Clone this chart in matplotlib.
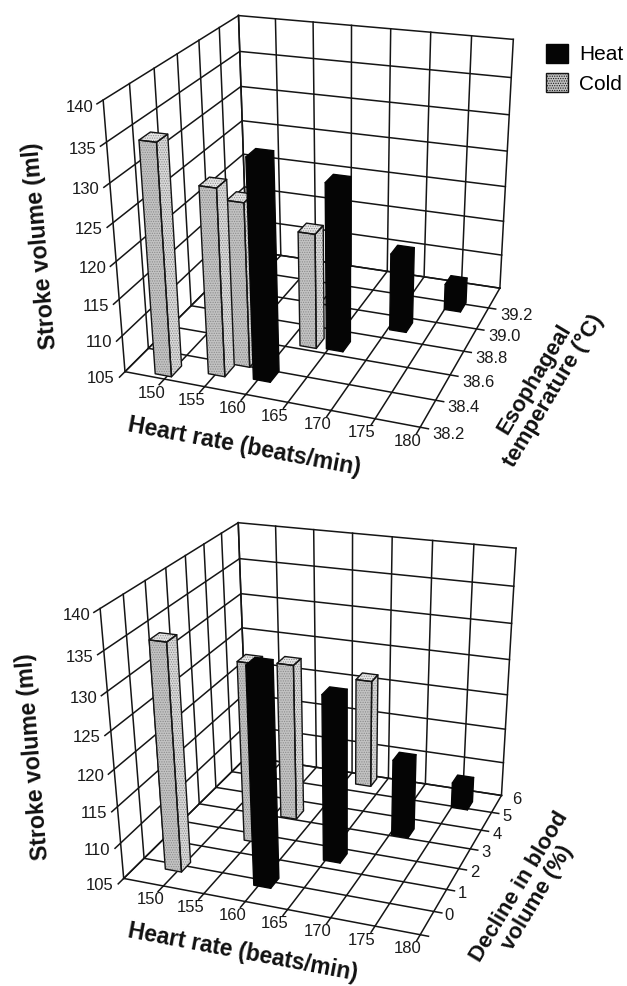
import numpy as np
import matplotlib
matplotlib.use("Agg")
import matplotlib.pyplot as plt
from matplotlib.patches import Patch
from mpl_toolkits.mplot3d.art3d import Poly3DCollection

W, H = 627, 986
plt.rcParams['font.family'] = ['Liberation Sans', 'DejaVu Sans']
plt.rcParams['hatch.linewidth'] = 0.55

# ---- data ----
hr_cold = [149.5, 155.2, 157.0, 162.6]
hr_heat = [160.5, 165.8, 171.3, 176.0]
sv_cold = [135.4, 129.8, 127.0, 120.8]
sv_heat = [133.8, 127.6, 115.8, 108.7]
temp_cold = [38.27, 38.34, 38.44, 38.67]
temp_heat = [38.36, 38.68, 38.92, 39.17]
decl_cold = [-0.05, 1.85, 3.28, 5.63]
decl_heat = [-0.04, 1.57, 3.28, 5.17]
hr_ticks = [150, 155, 160, 165, 170, 175, 180]
sv_ticks = [105, 110, 115, 120, 125, 130, 135, 140]
temp_ticks = [38.2, 38.4, 38.6, 38.8, 39.0, 39.2]
decl_ticks = [0, 1, 2, 3, 4, 5, 6]


def fit(xr, yr, zr, pts):
    """Camera matrix (data -> image pixels) from the corners of the plot box."""
    S = np.array([[1 / (xr[1] - xr[0]), 0, 0, -xr[0] / (xr[1] - xr[0])],
                  [0, 1 / (yr[1] - yr[0]), 0, -yr[0] / (yr[1] - yr[0])],
                  [0, 0, 1 / (zr[1] - zr[0]), -zr[0] / (zr[1] - zr[0])],
                  [0, 0, 0, 1]])
    rows = []
    for (i, j, k, u, v) in pts:
        u, v = u / 500, v / 500
        rows.append([i, j, k, 1, 0, 0, 0, 0, -u * i, -u * j, -u * k, -u])
        rows.append([0, 0, 0, 0, i, j, k, 1, -v * i, -v * j, -v * k, -v])
    _, _, Vt = np.linalg.svd(np.array(rows, float))
    P = np.diag([500, 500, 1.]) @ Vt[-1].reshape(3, 4) @ S
    c = np.array([sum(xr) / 2, sum(yr) / 2, sum(zr) / 2, 1])
    return -P if P[2] @ c < 0 else P


def pr(P, x, y, z):
    q = P @ np.array([x, y, z, 1.])
    return q[0] / q[2], q[1] / q[2]


fig = plt.figure(figsize=(W / 100, H / 100), dpi=100)


def ftext(px, py, s, **kw):
    return fig.text(px / W, 1 - py / H, s, **kw)


def panel(rect, P, xlim, ylim, zlim, yvals, ytick_pos, ylabels,
          ycold, yheat, dx, dy, ystub, ytoff):
    ax = fig.add_axes(rect, projection='3d')
    ax.set_axis_off()
    ax.patch.set_visible(False)
    ax.computed_zorder = False
    ax.set_xlim(*xlim); ax.set_ylim(*ylim); ax.set_zlim(*zlim)

    def get_proj():
        A = np.linalg.inv(ax.transData.get_affine().get_matrix())
        D = np.array([[1, 0, 0], [0, -1, H], [0, 0, 1.]])
        Q = A @ D @ P
        return np.vstack([Q[0], Q[1], [0, 0, 0, -1], Q[2]])
    ax.get_proj = get_proj

    lk = dict(color='#151515', lw=1.1, zorder=0, clip_on=False)
    x0, x1 = xlim; y0, y1 = ylim; z0, z1 = zlim
    xs = [x0] + hr_ticks
    for x in xs:                                  # back wall + floor, x lines
        ax.plot([x, x], [y1, y1], [z0, z1], **lk)
        ax.plot([x, x], [y0, y1], [z0, z0], **lk)
    for x in hr_ticks:
        ax.plot([x, x], [y0 - ystub, y0], [z0, z0], **lk)
    for y in yvals:                               # left wall + floor, y lines
        ax.plot([x0, x0], [y, y], [z0, z1], **lk)
        ax.plot([x0, x1 + (0.9 if y < y1 else 0.0)], [y, y], [z0, z0], **lk)
    for z in sv_ticks:
        ax.plot([x0, x1], [y1, y1], [z, z], **lk)
        ax.plot([x0, x0], [y0 - ystub, y1], [z, z], **lk)

    # bars, farthest first
    bars = [(x, y, z, 'c') for x, y, z in zip(hr_cold, ycold, sv_cold)] + \
           [(x, y, z, 'h') for x, y, z in zip(hr_heat, yheat, sv_heat)]
    bars.sort(key=lambda b: -(P @ np.array([b[0], b[1], z0, 1.]))[2])
    for n, (x, y, z, kind) in enumerate(bars):
        a, b = x - dx / 2, x + dx / 2
        c, d = y - dy / 2, y + dy / 2
        faces = [[(a, c, z0), (b, c, z0), (b, c, z), (a, c, z)],
                 [(b, c, z0), (b, d, z0), (b, d, z), (b, c, z)],
                 [(a, c, z), (b, c, z), (b, d, z), (a, d, z)]]
        zo = n + 1
        if kind == 'c':
            fill = Poly3DCollection(faces, facecolors=['#c2c2c2', '#d8d8d8', '#e6e6e6'],
                                    edgecolors='#8a8a8a', linewidths=0,
                                    hatch='.......', zorder=zo)
            ax.add_collection3d(fill, autolim=False)
            ax.add_collection3d(Poly3DCollection(faces, facecolors=(0, 0, 0, 0),
                                edgecolors='#141414', linewidths=1.0, zorder=zo + 0.5),
                                autolim=False)
        else:
            ax.add_collection3d(Poly3DCollection(faces, facecolors='#050505',
                                edgecolors='#050505', linewidths=1.0, zorder=zo),
                                autolim=False)

    # tick labels
    for x in hr_ticks:
        u, v = pr(P, x, y0, z0)
        ftext(u - 13, v + 14, str(x), fontsize=12, ha='center', va='center', color='#1a1a1a')
    for z in sv_ticks:
        u, v = pr(P, x0, y0, z)
        ftext(u - 10, v + 7, str(z), fontsize=12, ha='right', va='center', color='#1a1a1a')
    for y, s in zip(ytick_pos, ylabels):
        u, v = pr(P, x1, y, z0)
        ftext(u + ytoff[0], v + ytoff[1], s, fontsize=12, ha='left', va='center', color='#1a1a1a')
    return ax


# ---- top panel ----
def zp(a, b):
    return 100 + a / 3, b / 3


Pa = fit((145, 180), (38.2, 39.4), (105, 140),
         [(0, 0, 0, *zp(75, 1112)), (1, 0, 0, *zp(960, 1285)), (1, 1, 0, *zp(1200, 860)),
          (0, 1, 0, *zp(440, 755)), (0, 0, 1, *zp(10, 300)), (1, 1, 1, *zp(1240, 120)),
          (0, 1, 1, *zp(415, 45))])


def zq(a, b):
    return 100 + a / 3, 500 + b / 3


Pb = fit((145, 180), (-1, 6), (105, 140),
         [(0, 0, 0, *zq(72, 1135)), (1, 0, 0, *zq(960, 1305)), (1, 1, 0, *zq(1205, 885)),
          (0, 1, 0, *zq(440, 771)), (0, 0, 1, *zq(0, 325)), (1, 1, 1, *zq(1248, 145)),
          (0, 1, 1, *zq(415, 68))])

sq = W / H
panel([0, 1 - sq, 1, sq], Pa, (145, 180), (38.2, 39.4), (105, 140),
      temp_ticks + [39.4], temp_ticks, [f'{t:.1f}' for t in temp_ticks],
      temp_cold, temp_heat, 2.05, 0.09, 0.045, (12, 7.5))
panel([0, 0, 1, sq], Pb, (145, 180), (-1, 6), (105, 140),
      [-1] + decl_ticks, decl_ticks, [str(t) for t in decl_ticks],
      decl_cold, decl_heat, 2.05, 0.48, 0.26, (11, 4))

# ---- axis titles ----
tk = dict(fontweight='bold', ha='center', va='center',
          rotation_mode='anchor', color='#111111')
ftext(244, 447, 'Heart rate (beats/min)', rotation=-10.7, fontsize=16.7, **tk)
ftext(243, 952, 'Heart rate (beats/min)', rotation=-10.7, fontsize=16.4, **tk)
ftext(41, 246, 'Stroke volume (ml)', rotation=95, fontsize=16.7, **tk)
ftext(33, 757, 'Stroke volume (ml)', rotation=94.5, fontsize=16.7, **tk)
ftext(544, 385, 'Esophageal\ntemperature (°C)', rotation=59, multialignment='center',
      linespacing=1.05, fontsize=16, **tk)
ftext(528, 892, 'Decline in blood\nvolume (%)', rotation=59, multialignment='center',
      linespacing=1.0, fontsize=16, **tk)

# ---- legend ----
handles = [Patch(facecolor='#050505', edgecolor='#050505', label='Heat'),
           Patch(facecolor='#c2c2c2', edgecolor='#141414', hatch='.......', label='Cold')]
fig.legend(handles=handles, loc='upper left', bbox_to_anchor=(546 / W, 1 - 44 / H),
           frameon=False, fontsize=15, handlelength=1.06, handleheight=1.0,
           handletextpad=0.53, labelspacing=0.43, borderpad=0, borderaxespad=0)

fig.savefig('out.png', dpi=100)
